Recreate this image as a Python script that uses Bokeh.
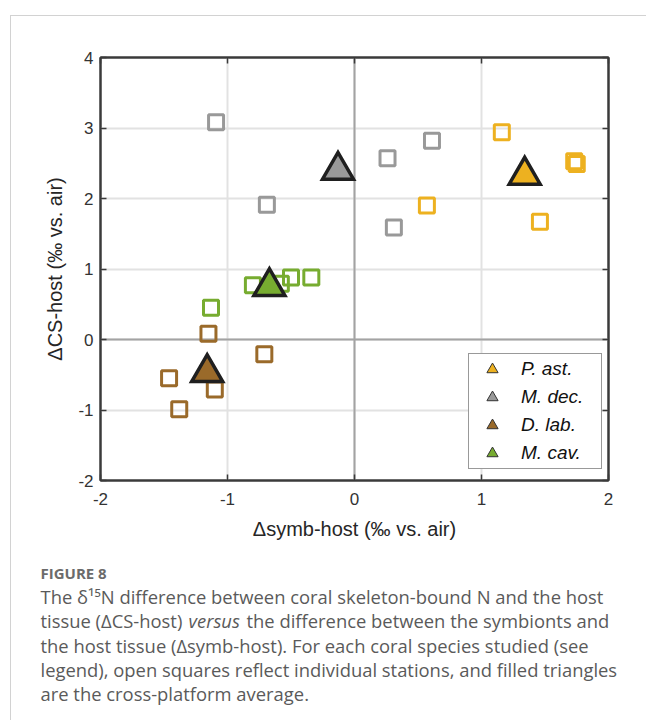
from bokeh.plotting import figure
from bokeh.layouts import column
from bokeh.models import (LinearAxis, FixedTicker, Span, Legend, LegendItem, Label, Range1d)
from bokeh.embed import file_html
from bokeh.resources import INLINE

# species and colours
species = ["P. ast.", "M. dec.", "D. lab.", "M. cav."]
colors = ["#EDB120", "#999999", "#9A6A2A", "#77AC30"]

# individual stations: Δsymb-host (x) and ΔCS-host (y), ‰ vs. air
p_ast_x = [1.16, 0.57, 1.46, 1.73, 1.75]
p_ast_y = [2.94, 1.90, 1.67, 2.53, 2.49]
m_dec_x = [-1.09, -0.69, 0.26, 0.61, 0.31]
m_dec_y = [3.08, 1.91, 2.57, 2.82, 1.59]
d_lab_x = [-1.15, -0.71, -1.46, -1.38, -1.10]
d_lab_y = [0.08, -0.21, -0.55, -0.99, -0.71]
m_cav_x = [-1.13, -0.80, -0.58, -0.50, -0.34]
m_cav_y = [0.45, 0.77, 0.79, 0.88, 0.88]

# cross-platform averages (same species order)
mean_x = [1.34, -0.13, -1.16, -0.67]
mean_y = [2.33, 2.40, -0.47, 0.75]

x_ticks = [-2, -1, 0, 1, 2]
x_tick_labels = ["-2", "-1", "0", "1", "2"]
y_ticks = [-2, -1, 0, 1, 2, 3, 4]
y_tick_labels = ["-2", "-1", "0", "1", "2", "3", "4"]

caption_title = "FIGURE 8"
caption_lines = [
    "The \u03b4\u00b9\u2075N difference between coral skeleton-bound N and the host",
    None,  # second line is built from pieces (italic "versus")
    "the host tissue (\u0394symb-host). For each coral species studied (see",
    "legend), open squares reflect individual stations, and filled triangles",
    "are the cross-platform average.",
]
line2_parts = ["tissue (\u0394CS-host)", "versus", "the difference between the symbionts and"]

# page geometry (pixels); content starts inside a thin page border
OX, OY = 11, 16
PAGE_W, PAGE_H = 646, 720
FRAME_L, FRAME_T, FRAME_W, FRAME_H = 100, 57, 508, 423
FRAME_B = FRAME_T + FRAME_H
PLOT_BOTTOM = 555
W = PAGE_W - OX

AX = "#3a3a3a"
FONT = "Liberation Sans"

p = figure(width=W, frame_width=FRAME_W, frame_height=FRAME_H,
           min_border_left=FRAME_L - OX, min_border_right=W - (FRAME_L - OX) - FRAME_W,
           min_border_top=FRAME_T - OY, min_border_bottom=PLOT_BOTTOM - FRAME_B,
           x_range=Range1d(-2, 2), y_range=Range1d(-2, 4),
           output_backend="svg", toolbar_location=None)
p.frame_align = False
p.background_fill_color = "white"
p.border_fill_color = "white"
p.outline_line_color = AX
p.outline_line_width = 2


def style_axis(ax, ticks, labels, show, standoff=7):
    ax.ticker = FixedTicker(ticks=ticks)
    ax.major_label_overrides = {t: l for t, l in zip(ticks, labels)}
    ax.major_tick_in = 6
    ax.major_tick_out = 0
    ax.minor_tick_line_color = None
    ax.axis_line_color = AX
    ax.axis_line_width = 2
    ax.major_tick_line_color = AX
    ax.major_tick_line_width = 1.5
    ax.major_label_text_font = FONT
    ax.major_label_text_font_size = "17px"
    ax.major_label_text_color = "#333333" if show else None
    ax.major_label_standoff = standoff


left = p.yaxis[0]
below = p.xaxis[0]
style_axis(left, y_ticks, y_tick_labels, True)
style_axis(below, x_ticks, x_tick_labels, True, standoff=12)
left.axis_label = "\u0394CS-host (\u2030 vs. air)"
below.axis_label = "\u0394symb-host (\u2030 vs. air)"
for ax in (left, below):
    ax.axis_label_text_font = FONT
    ax.axis_label_text_font_size = "20px"
    ax.axis_label_text_font_style = "normal"
    ax.axis_label_text_color = "#262626"
left.axis_label_standoff = 9
below.axis_label_standoff = 10

right = LinearAxis()
style_axis(right, y_ticks, y_tick_labels, False)
p.add_layout(right, "right")
above = LinearAxis()
style_axis(above, x_ticks, x_tick_labels, False)
p.add_layout(above, "above")

p.xgrid.ticker = FixedTicker(ticks=x_ticks)
p.ygrid.ticker = FixedTicker(ticks=y_ticks)
p.grid.grid_line_color = "#e2e2e2"
p.grid.grid_line_width = 2

# zero lines
for dim in ("width", "height"):
    p.add_layout(Span(location=0, dimension=dim, line_color="#a3a3a3",
                      line_width=2, level="underlay"))

# legend-only triangles (thin outline, not drawn in the axes)
leg = p.scatter(mean_x, mean_y, marker="triangle", size=0,
                fill_color=colors, line_color="#333333", line_width=1)

# stations: open squares
for xs, ys, c in ((p_ast_x, p_ast_y, colors[0]), (m_dec_x, m_dec_y, colors[1]),
                  (d_lab_x, d_lab_y, colors[2]), (m_cav_x, m_cav_y, colors[3])):
    p.scatter(xs, ys, marker="square", size=15, fill_color=None,
              line_color=c, line_width=3)

# averages: filled triangles
p.scatter(mean_x, mean_y, marker="triangle", size=31, fill_color=colors,
          line_color="#1f1f1f", line_width=3.5, line_join="miter")

legend = Legend(items=[LegendItem(label=species[i], renderers=[leg], index=i)
                       for i in range(len(species))],
                location=(368, 11), glyph_width=44, glyph_height=28, spacing=0,
                padding=1, margin=0, label_standoff=7, label_width=79, label_height=28,
                label_text_font=FONT, label_text_font_style="italic",
                label_text_font_size="19px", label_text_color="#111111",
                border_line_color="#333333", border_line_width=1.5,
                background_fill_color="white", background_fill_alpha=1)
p.add_layout(legend)

# caption panel (frame covers the whole panel)
CAP_H = PAGE_H - PLOT_BOTTOM
cap = figure(width=W, height=CAP_H, min_border=0, x_range=Range1d(0, 1), y_range=Range1d(0, 1),
             x_axis_location=None, y_axis_location=None,
             output_backend="svg", toolbar_location=None)
cap.frame_align = False
cap.grid.visible = False
cap.outline_line_color = None
cap.background_fill_color = "white"
cap.border_fill_color = "white"

CAP_FONT_SIZE = "18.4px"


def cap_text(text, x, y, **kw):
    opts = dict(text_font="Open Sans", text_font_size=CAP_FONT_SIZE, text_color="#5a5a5a",
                text_baseline="middle", x_units="screen", y_units="screen")
    opts.update(kw)
    cap.add_layout(Label(x=x - OX, y=CAP_H - (y - PLOT_BOTTOM), text=text, **opts))


cap_text(caption_title, 40, 572, text_font_size="15px", text_color="#6b6b6b",
         text_font_style="bold")
line_y = [596, 620, 645, 669, 693]
for i, t in enumerate(caption_lines):
    if t is not None:
        cap_text(t, 40, line_y[i])
cap_text(line2_parts[0], 40, line_y[1])
cap_text(line2_parts[1], 188, line_y[1], text_font_style="italic")
cap_text(line2_parts[2], 246, line_y[1])

page = column(p, cap, margin=(OY - 1, 0, 0, OX - 1), spacing=0,
              styles={"border-top": "1px solid #d2d2d2", "border-left": "1px solid #d2d2d2"})

open("out.html", "w").write(file_html(page, INLINE))
